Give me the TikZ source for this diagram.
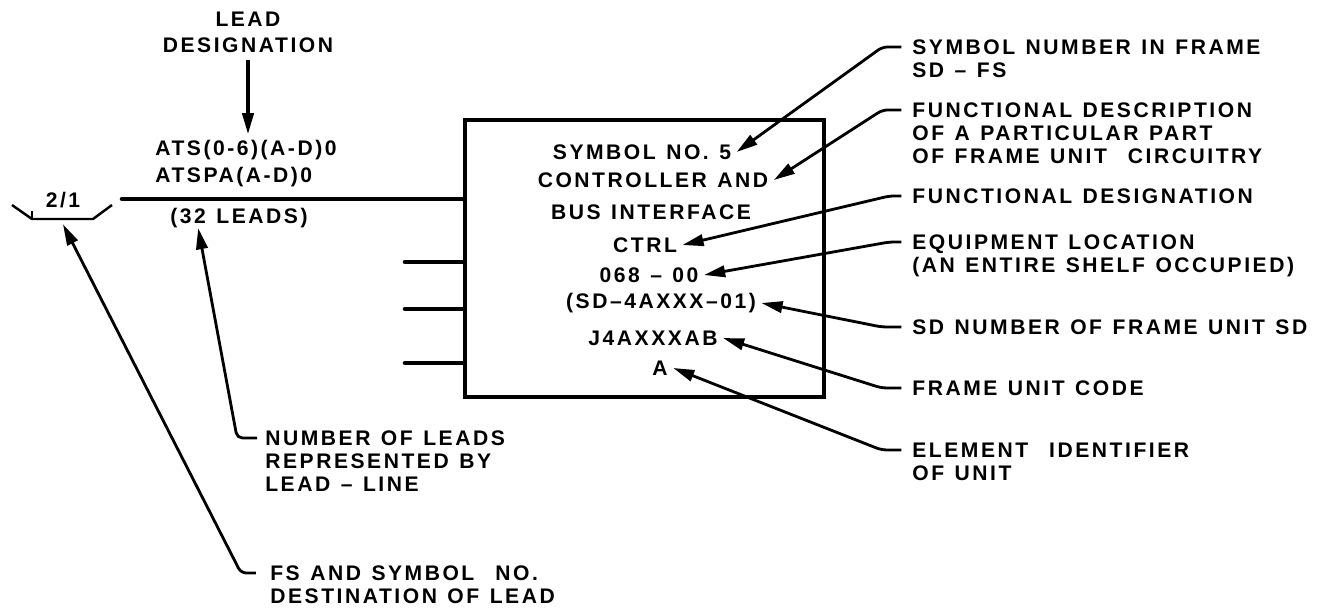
\documentclass[tikz,border=0pt]{standalone}
\usepackage{fontspec}
\setmainfont{Liberation Sans}[LetterSpace=12, WordSpace=1.25]
\usetikzlibrary{arrows.meta, positioning}

\begin{document}
\begin{tikzpicture}[x=0.02cm, y=-0.02cm,
  lbl/.style={font=\bfseries\fontsize{12}{13}\selectfont, inner sep=0pt},
  boxtxt/.style={lbl, inner sep=3pt},
  note/.style={lbl, align=left, anchor=north west},
  lead/.style={line width=2.6pt, line cap=round},
  leader/.style={line width=1.6pt, rounded corners=3pt,
                 -{Triangle[length=12pt,width=6.5pt]}},
]
\useasboundingbox (0,0) rectangle (1331,613);

% symbol block
\node[draw, line width=2.4pt, minimum width=7.18cm, minimum height=5.54cm] (box) at (644.5,258.5) {};
\node[boxtxt] (t1) at (642,152) {SYMBOL NO. 5};
\node[boxtxt] (t2) at (653,180) {CONTROLLER AND};
\node[boxtxt] (t0) at (651,212) {BUS INTERFACE};
\node[boxtxt] (t3) at (645,245) {CTRL};
\node[boxtxt] (t4) at (649,275) {068 -- 00};
\node[boxtxt] (t5) at (661,303) {(SD--4AXXX--01)};
\node[boxtxt] (t6) at (653,338) {J4AXXXAB};
\node[boxtxt] (t7) at (660,368) {A};

% leads into the block
\coordinate (lfree) at (122,199);
\draw[lead] (lfree) -- (lfree -| box.west);
\foreach \y in {262,309,363}
  \draw[lead] (405,\y) -- (box.west |- 405,\y);

\node[lbl, align=center] (ldes) at (248,32.5) {LEAD\\[2pt]DESIGNATION};
\node[note] (ats) at (155,139.4) {ATS(0-6)(A-D)0\\[2.5pt]ATSPA(A-D)0};
\node[lbl] (leads) at (239,218) {(32 LEADS)};
\draw[line width=1.8pt, shorten <=4pt, shorten >=3pt, -{Triangle[length=12pt,width=6.5pt]}]
  (ldes.south) -- (ldes.south |- ats.north);

% destination 2/1
\node[lbl] (dest) at (63,200) {2/1};
\draw[line width=1.4pt] (12,205) -- (32,219) -- (63,219) coordinate (brk) -- (93,219) -- (112,205);
\draw[line width=1.2pt] (32,219) -- (32,211);

% explanations, left
\node[note] (nol) at (265,430.4) {NUMBER OF LEADS\\REPRESENTED BY\\LEAD -- LINE};
\node[note] (fs)  at (270,565.4) {FS AND SYMBOL \ NO.\\DESTINATION OF LEAD};
\draw[leader] ([xshift=-4.5pt,yshift=-4.3pt]nol.north west) -- ++(-20,0) -- ([xshift=16pt]leads.south west);
\draw[leader] ([xshift=-8pt,yshift=-4.3pt]fs.north west) -- ++(-15,0) -- ([yshift=-3pt]brk);

% explanations, right
\node[note] (sym)    at (912,39.4)  {SYMBOL NUMBER IN FRAME\\SD -- FS};
\node[note] (fdesc)  at (912,102.4) {FUNCTIONAL DESCRIPTION\\OF A PARTICULAR PART\\OF FRAME UNIT \ CIRCUITRY};
\node[note] (fdesig) at (912,188.4) {FUNCTIONAL DESIGNATION};
\node[note] (eqloc)  at (912,234.4) {EQUIPMENT LOCATION\\(AN ENTIRE SHELF OCCUPIED)};
\node[note] (sdnum)  at (912,319.4) {SD NUMBER OF FRAME UNIT SD};
\node[note] (fuc)    at (912,380.4) {FRAME UNIT CODE};
\node[note] (eid)    at (912,442.4) {ELEMENT \ IDENTIFIER\\OF UNIT};
\draw[leader] ([xshift=-6pt,yshift=-4.3pt]sym.north west)    -- ++(-19,0) -- (t1.east);
\draw[leader] ([xshift=-6pt,yshift=-4.3pt]fdesc.north west)  -- ++(-19,0) -- (t2.east);
\draw[leader] ([xshift=-6pt,yshift=-4.3pt]fdesig.north west) -- ++(-12,0) -- (t3.east);
\draw[leader] ([xshift=-6pt,yshift=-4.3pt]eqloc.north west)  -- ++(-12,0) -- (t4.east);
\draw[leader] ([xshift=-6pt,yshift=-4.3pt]sdnum.north west)  -- ++(-20,0) -- (t5.east);
\draw[leader] ([xshift=-6pt,yshift=-4.3pt]fuc.north west)    -- ++(-20,0) -- (t6.east);
\draw[leader] ([xshift=-6pt,yshift=-4.3pt]eid.north west)    -- ++(-20,0) -- (t7.east);
\end{tikzpicture}
\end{document}
